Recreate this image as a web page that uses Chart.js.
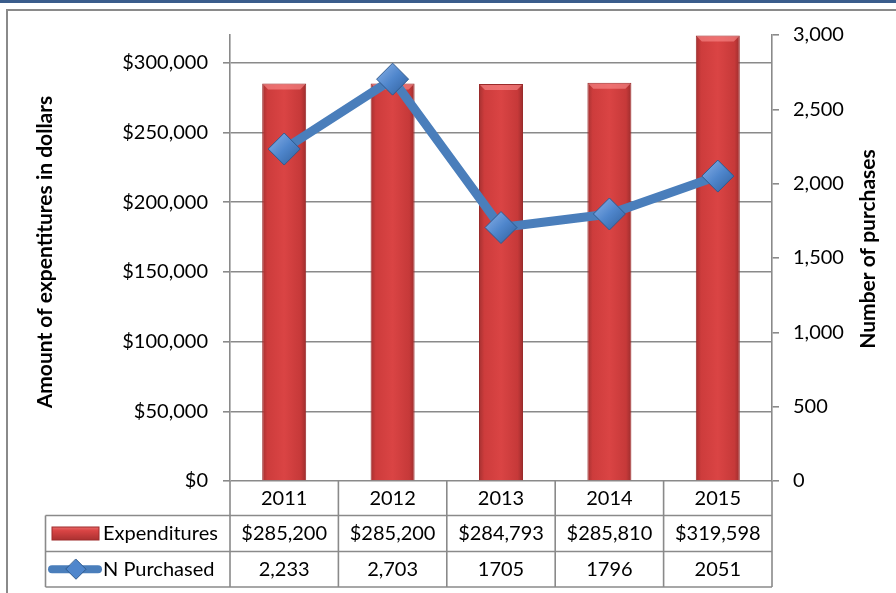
<!DOCTYPE html>
<html>
<head>
<meta charset="utf-8">
<script src="https://cdn.jsdelivr.net/npm/chart.js@4.4.0/dist/chart.umd.min.js"></script>
<style>
  html, body { margin: 0; padding: 0; background: #fff; }
  #wrap { width: 896px; height: 593px; position: relative; }
</style>
</head>
<body>
<div id="wrap"><canvas id="myChart"></canvas></div>
<script>
const years = ['2011', '2012', '2013', '2014', '2015'];
const expenditures = [285200, 285200, 284793, 285810, 319598];
const purchased = [2233, 2703, 1705, 1796, 2051];
// the table in the picture mixes number formats, keep them as shown
const purchasedLabels = ['2,233', '2,703', '1705', '1796', '2051'];
const leftTicks = [0, 50000, 100000, 150000, 200000, 250000, 300000];
const rightTicks = [0, 500, 1000, 1500, 2000, 2500, 3000];

const FONT = 'Lato, "Liberation Sans", sans-serif';
const GRAY = '#8a8a8a';
const BAR_PCT = 0.406;

const money = v => '$' + v.toLocaleString('en-US');

const barFill = (c) => {
    const x = c.chart.scales.x;
    if (!x || c.dataIndex == null) return '#d43f3f';
    const cx = x.getPixelForValue(c.dataIndex);
    const hw = x.width / years.length * BAR_PCT / 2;
    if (!isFinite(cx) || !isFinite(hw) || hw <= 0) return '#d43f3f';
    const g = c.chart.ctx.createLinearGradient(cx - hw, 0, cx + hw, 0);
    g.addColorStop(0, '#a53131');
    g.addColorStop(0.12, '#cd3c3c');
    g.addColorStop(0.5, '#da4444');
    g.addColorStop(0.88, '#c63939');
    g.addColorStop(1, '#9c2d2d');
    return g;
};

const pointFill = (c) => {
    const el = c.element;
    if (!el || !isFinite(el.x) || !isFinite(el.y)) return '#4f86cc';
    const g = c.chart.ctx.createLinearGradient(el.x - 16, el.y - 16, el.x + 16, el.y + 16);
    g.addColorStop(0, '#8db3e8');
    g.addColorStop(0.5, '#4f86cc');
    g.addColorStop(1, '#2f5f9c');
    return g;
};

// light bevel along the top of each bar, drawn before the line goes on top
const bevelPlugin = {
    id: 'bevelPlugin',
    afterDatasetDraw(chart, args) {
        if (args.index !== 1) return;
        const c = chart.ctx;
        c.save();
        args.meta.data.forEach(bar => {
            const hw = bar.width / 2;
            const t = bar.y, d = 6;
            c.fillStyle = 'rgba(255,150,150,0.55)';
            c.beginPath();
            c.moveTo(bar.x - hw + 1, t + 1);
            c.lineTo(bar.x + hw - 1, t + 1);
            c.lineTo(bar.x + hw - d, t + d);
            c.lineTo(bar.x - hw + d, t + d);
            c.closePath();
            c.fill();
        });
        c.restore();
    }
};

// frame, axis titles and the data table under the plot
const tablePlugin = {
    id: 'tablePlugin',
    beforeDraw(chart) {
        const c = chart.ctx;
        c.save();
        c.fillStyle = '#3a5d8c';
        c.fillRect(0, 0, chart.width, 3);
        c.strokeStyle = GRAY;
        c.lineWidth = 2;
        c.strokeRect(7, 10, chart.width + 20, chart.height + 20);
        c.restore();
    },
    afterDraw(chart) {
        const c = chart.ctx;
        const x = chart.scales.x;
        const area = chart.chartArea;
        const n = years.length;
        const step = x.width / n;
        const y0 = area.bottom, y1 = 515.5, y2 = 551.5, y3 = 587;
        const legLeft = 45.5;
        c.save();
        c.strokeStyle = GRAY;
        c.lineWidth = 1.6;
        c.beginPath();
        c.moveTo(legLeft, y1); c.lineTo(area.right, y1);
        c.moveTo(legLeft, y2); c.lineTo(area.right, y2);
        c.moveTo(legLeft, y3); c.lineTo(area.right, y3);
        c.moveTo(legLeft, y1); c.lineTo(legLeft, y3);
        for (let i = 0; i <= n; i++) {
            const bx = x.left + i * step;
            c.moveTo(bx, y0); c.lineTo(bx, y3);
        }
        c.stroke();

        c.fillStyle = '#000';
        c.font = '20px ' + FONT;
        c.textAlign = 'center';
        c.textBaseline = 'middle';
        years.forEach((yr, i) => {
            const cx = x.getPixelForValue(i);
            c.fillText(yr, cx, (y0 + y1) / 2);
            c.fillText(money(expenditures[i]), cx, (y1 + y2) / 2);
            c.fillText(purchasedLabels[i], cx, (y2 + y3) / 2);
        });
        c.textAlign = 'left';
        c.fillText('Expenditures', 103, (y1 + y2) / 2);
        c.fillText('N Purchased', 103, (y2 + y3) / 2);

        // legend keys
        const ky = (y1 + y2) / 2;
        const g = c.createLinearGradient(0, ky - 7, 0, ky + 7);
        g.addColorStop(0, '#e87070');
        g.addColorStop(0.3, '#d94444');
        g.addColorStop(1, '#a83030');
        c.fillStyle = g;
        c.fillRect(52, ky - 6.5, 47, 13);
        c.strokeStyle = '#9e2b2b';
        c.lineWidth = 1;
        c.strokeRect(52, ky - 6.5, 47, 13);

        const ly = (y2 + y3) / 2;
        c.strokeStyle = '#4a7ebb';
        c.lineWidth = 8;
        c.lineCap = 'round';
        c.beginPath();
        c.moveTo(52, ly); c.lineTo(98, ly);
        c.stroke();
        c.fillStyle = '#4f86cc';
        c.strokeStyle = '#2f5a8e';
        c.lineWidth = 1;
        c.beginPath();
        c.moveTo(76, ly - 10); c.lineTo(86, ly); c.lineTo(76, ly + 10); c.lineTo(66, ly);
        c.closePath();
        c.fill(); c.stroke();

        // axis titles, both read bottom to top
        c.fillStyle = '#000';
        c.font = 'bold 21px ' + FONT;
        c.textAlign = 'center';
        c.save();
        c.translate(45, 252);
        c.rotate(-Math.PI / 2);
        c.fillText('Amount of expentitures in dollars', 0, 0);
        c.restore();
        c.save();
        c.translate(868, 249);
        c.rotate(-Math.PI / 2);
        c.fillText('Number of purchases', 0, 0);
        c.restore();
        c.restore();
    }
};

const ctx = document.getElementById('myChart').getContext('2d');
const myChart = new Chart(ctx, {
    type: 'bar',
    data: {
        labels: years,
        datasets: [{
            type: 'line',
            label: 'N Purchased',
            data: purchased,
            yAxisID: 'y1',
            order: 1,
            borderColor: '#4a7ebb',
            borderWidth: 9,
            pointStyle: 'rectRot',
            pointRadius: 16,
            pointBackgroundColor: pointFill,
            pointBorderColor: '#2f5a8e',
            pointBorderWidth: 1,
            tension: 0
        }, {
            type: 'bar',
            label: 'Expenditures',
            data: expenditures,
            yAxisID: 'y',
            order: 2,
            backgroundColor: barFill,
            borderColor: '#9a2b2b',
            borderWidth: 1,
            barPercentage: BAR_PCT,
            categoryPercentage: 1
        }]
    },
    options: {
        responsive: true,
        maintainAspectRatio: false,
        animation: false,
        layout: { padding: { top: 35, bottom: 112, left: 0, right: 0 } },
        plugins: {
            legend: { display: false },
            tooltip: { enabled: false }
        },
        scales: {
            x: { display: false, offset: true },
            y: {
                position: 'left',
                min: 0,
                max: 320000,
                afterFit: s => { s.width = 230; },
                afterBuildTicks: s => { s.ticks = leftTicks.map(v => ({ value: v })); },
                ticks: {
                    callback: v => money(v),
                    color: '#000',
                    font: { family: FONT, size: 20 },
                    padding: 15
                },
                grid: { color: GRAY, lineWidth: 1.6, tickLength: 7 },
                border: { color: GRAY, width: 1.6 }
            },
            y1: {
                position: 'right',
                min: 0,
                max: 3000,
                afterFit: s => { s.width = 124; },
                afterBuildTicks: s => { s.ticks = rightTicks.map(v => ({ value: v })); },
                ticks: {
                    callback: v => v.toLocaleString('en-US'),
                    color: '#000',
                    font: { family: FONT, size: 20 },
                    padding: 14
                },
                grid: { drawOnChartArea: false, color: GRAY, lineWidth: 1.6, tickLength: 7 },
                border: { color: GRAY, width: 1.6 }
            }
        }
    },
    plugins: [bevelPlugin, tablePlugin]
});
</script>
</body>
</html>
